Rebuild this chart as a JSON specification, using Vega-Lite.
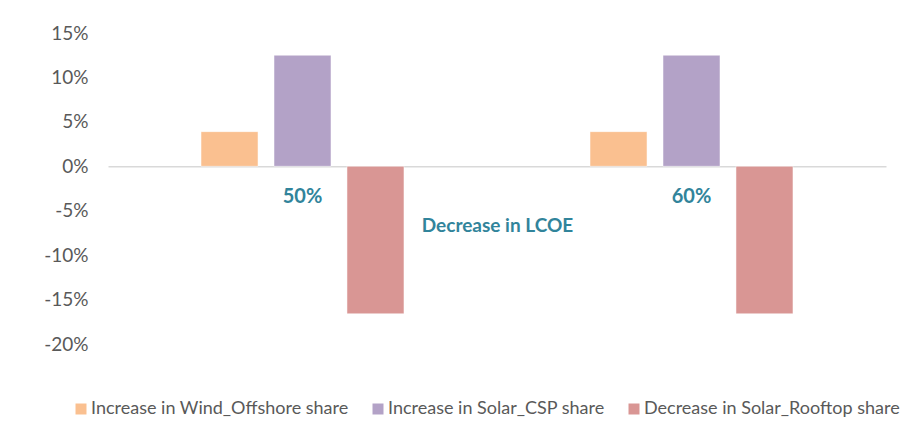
{
  "$schema": "https://vega.github.io/schema/vega-lite/v6.json",
  "autosize": {"type": "none"},
  "width": 778,
  "height": 311,
  "padding": {"left": 108, "top": 33, "right": 23, "bottom": 101},
  "background": "white",
  "config": {
    "view": {"stroke": null},
    "font": "Lato",
    "axis": {"labelFont": "Lato", "titleFont": "Lato"},
    "legend": {"labelFont": "Lato"}
  },
  "data": {
    "values": [
      {"lcoe": "50%", "series": "Increase in Wind_Offshore share", "value": 0.039},
      {"lcoe": "50%", "series": "Increase in Solar_CSP share", "value": 0.125},
      {"lcoe": "50%", "series": "Decrease in Solar_Rooftop share", "value": -0.166},
      {"lcoe": "60%", "series": "Increase in Wind_Offshore share", "value": 0.039},
      {"lcoe": "60%", "series": "Increase in Solar_CSP share", "value": 0.125},
      {"lcoe": "60%", "series": "Decrease in Solar_Rooftop share", "value": -0.166}
    ]
  },
  "mark": {"type": "bar", "stroke": "white", "strokeWidth": 0.5},
  "encoding": {
    "x": {
      "field": "lcoe",
      "type": "nominal",
      "scale": {"paddingInner": 0.437, "paddingOuter": 0.2185},
      "axis": {
        "title": "Decrease in LCOE",
        "orient": "bottom",
        "offset": -177.7,
        "labelAngle": 0,
        "ticks": false,
        "domainColor": "#d9d9d9",
        "domainWidth": 1.5,
        "labelFont": "Lato",
        "labelFontWeight": "bold",
        "labelFontSize": 20,
        "labelColor": "#31849B",
        "labelPadding": 20,
        "titleFontWeight": "bold",
        "titleFontSize": 19,
        "titleColor": "#31849B",
        "titlePadding": 10
      }
    },
    "xOffset": {
      "field": "series",
      "type": "nominal",
      "sort": ["Increase in Wind_Offshore share", "Increase in Solar_CSP share", "Decrease in Solar_Rooftop share"],
      "scale": {"paddingInner": 0.219, "paddingOuter": 0.11}
    },
    "y": {
      "field": "value",
      "type": "quantitative",
      "scale": {"domain": [-0.2, 0.15], "nice": false, "zero": false},
      "axis": {
        "title": null,
        "format": ".0%",
        "labelExpr": "replace(datum.label, '−', '-')",
        "values": [-0.2, -0.15, -0.1, -0.05, 0, 0.05, 0.1, 0.15],
        "domain": false,
        "ticks": false,
        "grid": false,
        "labelFontSize": 19,
        "labelColor": "#595959",
        "labelPadding": 20
      }
    },
    "color": {
      "field": "series",
      "type": "nominal",
      "scale": {
        "domain": ["Increase in Wind_Offshore share", "Increase in Solar_CSP share", "Decrease in Solar_Rooftop share"],
        "range": ["#FAC090", "#B3A2C7", "#D99694"]
      },
      "legend": {
        "title": null,
        "orient": "none",
        "direction": "horizontal",
        "legendX": -36,
        "legendY": 367,
        "symbolType": "square",
        "symbolSize": 121,
        "symbolStrokeWidth": 0,
        "labelFontSize": 18,
        "labelColor": "#595959",
        "labelOffset": 1,
        "labelLimit": 500,
        "columnPadding": 20,
        "padding": 0
      }
    }
  }
}
